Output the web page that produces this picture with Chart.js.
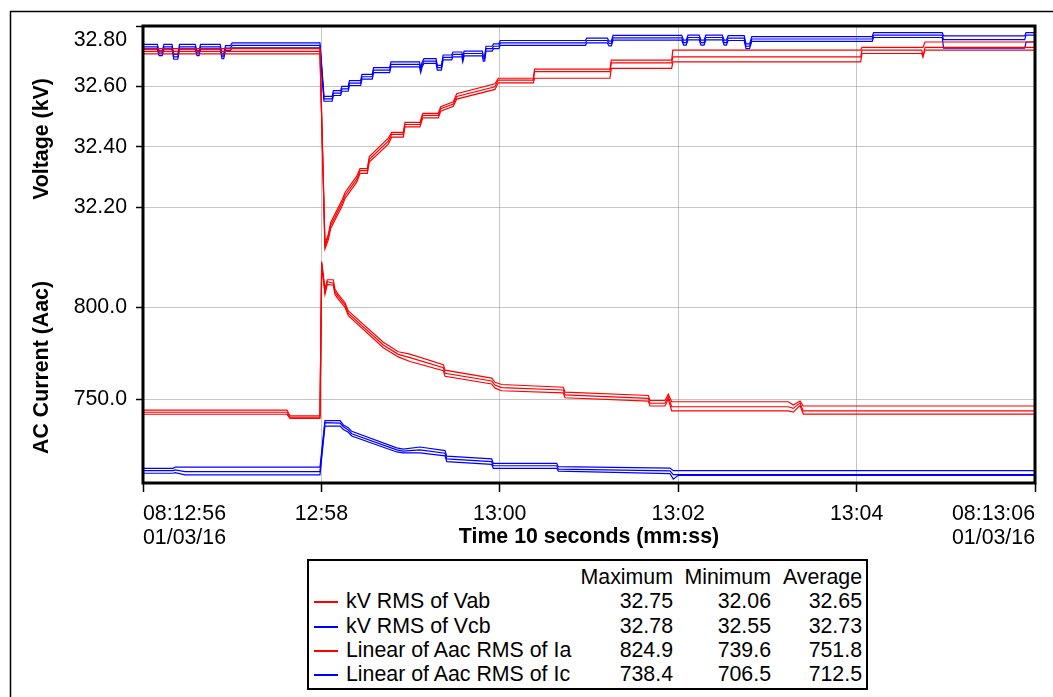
<!DOCTYPE html>
<html>
<head>
<meta charset="utf-8">
<script src="https://cdn.jsdelivr.net/npm/chart.js@4/dist/chart.umd.min.js"></script>
<style>
  html, body { margin: 0; padding: 0; background: #fff; }
  #wrap { position: relative; width: 1053px; height: 697px; overflow: hidden;
          font-family: "Liberation Sans", Arial, Helvetica, sans-serif; color: #000; }
  #c { position: absolute; left: 0; top: 0; }
  #legend { position: absolute; left: 307px; top: 559px; width: 561px; height: 131px;
            border: 2px solid #000; box-sizing: border-box; font-size: 21.33px; background: #fff; }
  .row { position: absolute; left: 0; right: 0; height: 24px; line-height: 24px; white-space: nowrap; }
  .cell { position: absolute; top: 0; text-align: right; }
  .sw { position: absolute; left: 5px; top: 12px; width: 24px; height: 2px; }
  .name { position: absolute; left: 37px; top: 0; }
</style>
</head>
<body>
<div id="wrap">
  <canvas id="c" width="1053" height="697"></canvas>
  <div id="legend"></div>
</div>
<script>
// Time axis: seconds after 08:12:56 on 01/03/16
const timeTicks = [0, 2, 4, 6, 8, 10];
const timeLabels = [['08:12:56', '01/03/16'], '12:58', '13:00', '13:02', '13:04', ['08:13:06', '01/03/16']];
const voltTicks = [32.2, 32.4, 32.6, 32.8];
const currentTicks = [750, 800];

// kV RMS of Vab (max / average / min traces)
const tVab = [0, 1.984, 2.040, 2.077, 2.104, 2.228, 2.265, 2.396, 2.433, 2.515, 2.537, 2.750, 2.788, 2.918, 2.937, 3.105, 3.136, 3.311, 3.337, 3.479, 3.517, 3.946, 3.983, 4.376, 4.390, 5.235, 5.250, 5.927, 5.940, 8.046, 8.060, 8.730, 8.744, 8.767, 10];
const vabMax = [32.725, 32.725, 32.080, 32.110, 32.150, 32.222, 32.249, 32.303, 32.328, 32.328, 32.368, 32.429, 32.448, 32.448, 32.481, 32.481, 32.511, 32.511, 32.533, 32.549, 32.576, 32.609, 32.627, 32.627, 32.657, 32.657, 32.687, 32.687, 32.720, 32.720, 32.729, 32.729, 32.729, 32.747, 32.747];
const vabAvg = [32.716, 32.716, 32.071, 32.102, 32.140, 32.212, 32.239, 32.293, 32.321, 32.321, 32.359, 32.419, 32.441, 32.441, 32.474, 32.474, 32.504, 32.504, 32.526, 32.542, 32.567, 32.599, 32.621, 32.621, 32.649, 32.649, 32.678, 32.678, 32.698, 32.698, 32.720, 32.720, 32.700, 32.729, 32.729];
const vabMin = [32.708, 32.708, 32.062, 32.092, 32.130, 32.202, 32.229, 32.283, 32.312, 32.312, 32.350, 32.409, 32.432, 32.432, 32.466, 32.466, 32.496, 32.496, 32.518, 32.534, 32.558, 32.590, 32.612, 32.612, 32.627, 32.627, 32.660, 32.660, 32.681, 32.681, 32.709, 32.709, 32.698, 32.720, 32.720];

// kV RMS of Vcb
const tVcb = [0.000, 0.160, 0.180, 0.215, 0.235, 0.325, 0.345, 0.390, 0.410, 0.585,
              0.605, 0.628, 0.645, 0.866, 0.885, 0.905, 0.925, 0.980, 1.000, 1.984,
              2.029, 2.120, 2.135, 2.215, 2.230, 2.300, 2.315, 2.440, 2.455, 2.570,
              2.585, 2.765, 2.780, 3.100, 3.113, 3.130, 3.150, 3.285, 3.300, 3.345,
              3.365, 3.460, 3.475, 3.575, 3.585, 3.600, 3.805, 3.815, 3.830, 3.845,
              3.915, 3.930, 3.990, 4.005, 4.960, 4.975, 5.205, 5.225, 5.250, 5.270,
              6.040, 6.060, 6.090, 6.110, 6.235, 6.255, 6.290, 6.310, 6.495, 6.515,
              6.540, 6.560, 6.740, 6.760, 6.800, 6.825, 8.175, 8.190, 8.960, 8.975,
              9.885, 9.900, 10.000];
const vcbMax = [32.739, 32.739, 32.718, 32.718, 32.739, 32.739, 32.706, 32.706, 32.739, 32.739,
                32.718, 32.718, 32.739, 32.739, 32.708, 32.708, 32.735, 32.735, 32.744, 32.744,
                32.567, 32.567, 32.586, 32.586, 32.600, 32.600, 32.619, 32.619, 32.640, 32.640,
                32.662, 32.662, 32.681, 32.681, 32.662, 32.681, 32.692, 32.692, 32.670, 32.670,
                32.704, 32.704, 32.714, 32.714, 32.697, 32.717, 32.717, 32.700, 32.700, 32.733,
                32.733, 32.741, 32.741, 32.752, 32.752, 32.760, 32.760, 32.750, 32.750, 32.769,
                32.769, 32.753, 32.753, 32.770, 32.770, 32.753, 32.753, 32.770, 32.770, 32.753,
                32.753, 32.768, 32.768, 32.741, 32.741, 32.765, 32.765, 32.778, 32.778, 32.767,
                32.767, 32.778, 32.778];
const vcbAvg = [32.731, 32.731, 32.710, 32.710, 32.731, 32.731, 32.698, 32.698, 32.731, 32.731,
                32.710, 32.710, 32.731, 32.731, 32.700, 32.700, 32.727, 32.727, 32.736, 32.736,
                32.559, 32.559, 32.578, 32.578, 32.592, 32.592, 32.611, 32.611, 32.632, 32.632,
                32.654, 32.654, 32.673, 32.673, 32.654, 32.673, 32.684, 32.684, 32.662, 32.662,
                32.696, 32.696, 32.706, 32.706, 32.689, 32.709, 32.709, 32.692, 32.692, 32.725,
                32.725, 32.733, 32.733, 32.744, 32.744, 32.752, 32.752, 32.742, 32.742, 32.761,
                32.761, 32.745, 32.745, 32.762, 32.762, 32.745, 32.745, 32.762, 32.762, 32.745,
                32.745, 32.760, 32.760, 32.733, 32.733, 32.757, 32.757, 32.770, 32.770, 32.755,
                32.755, 32.770, 32.770];
const vcbMin = [32.723, 32.723, 32.702, 32.702, 32.723, 32.723, 32.690, 32.690, 32.723, 32.723,
                32.702, 32.702, 32.723, 32.723, 32.692, 32.692, 32.719, 32.719, 32.728, 32.728,
                32.551, 32.551, 32.570, 32.570, 32.584, 32.584, 32.603, 32.603, 32.624, 32.624,
                32.646, 32.646, 32.665, 32.665, 32.646, 32.665, 32.676, 32.676, 32.654, 32.654,
                32.688, 32.688, 32.698, 32.698, 32.681, 32.701, 32.701, 32.684, 32.684, 32.717,
                32.717, 32.725, 32.725, 32.736, 32.736, 32.744, 32.744, 32.734, 32.734, 32.753,
                32.753, 32.737, 32.737, 32.754, 32.754, 32.737, 32.737, 32.754, 32.754, 32.737,
                32.737, 32.752, 32.752, 32.725, 32.725, 32.749, 32.749, 32.762, 32.762, 32.727,
                32.727, 32.747, 32.747];

// Linear of Aac RMS of Ia
const tIa = [0, 1.614, 1.648, 1.984, 2.003, 2.040, 2.066, 2.133, 2.152, 2.189, 2.265, 2.302, 2.694, 2.862, 2.993, 3.367, 3.386, 3.909, 3.946, 4.021, 4.712, 4.731, 5.665, 5.684, 5.852, 5.889, 5.927, 7.234, 7.290, 7.366, 7.402, 10];
const iaMax = [744.1, 744.1, 741.0, 741.0, 824.9, 810.0, 815.0, 815.0, 810.0, 807.0, 802.5, 798.0, 781.0, 775.8, 774.5, 768.8, 765.8, 761.5, 759.2, 758.0, 756.5, 753.8, 752.0, 749.3, 749.3, 752.8, 748.6, 748.6, 746.8, 749.0, 746.3, 746.3];
const iaAvg = [742.9, 742.9, 740.3, 740.3, 824.0, 808.5, 813.9, 813.1, 808.5, 805.8, 801.3, 796.7, 779.5, 774.4, 772.6, 767.1, 764.1, 759.9, 757.7, 756.3, 755.0, 752.3, 750.5, 747.8, 747.8, 751.4, 745.9, 745.9, 745.0, 748.0, 743.6, 743.6];
const iaMin = [741.8, 741.8, 739.6, 739.6, 823.0, 807.0, 812.5, 812.0, 807.0, 804.5, 800.0, 795.5, 778.0, 773.0, 770.5, 765.5, 762.5, 758.3, 756.0, 754.6, 753.4, 750.8, 749.0, 746.3, 746.3, 750.0, 743.6, 743.6, 743.0, 746.5, 741.9, 741.9];

// Linear of Aac RMS of Ic
const tIc = [0, 0.336, 0.360, 0.471, 1.984, 2.040, 2.209, 2.246, 2.302, 2.340, 2.844, 2.918, 3.105, 3.386, 3.405, 3.909, 3.927, 4.638, 4.656, 5.908, 5.945, 6.000, 10];
const icMax = [712.4, 712.4, 713.0, 713.0, 713.0, 738.4, 738.3, 736.0, 734.5, 732.5, 723.5, 722.8, 724.0, 722.0, 719.0, 717.5, 715.1, 715.1, 713.3, 712.5, 711.1, 711.1, 711.1];
const icAvg = [711.1, 711.1, 711.5, 710.6, 710.6, 737.2, 737.0, 735.0, 733.2, 731.2, 722.4, 721.8, 722.4, 720.6, 717.5, 716.0, 713.8, 713.8, 712.0, 711.0, 709.0, 709.0, 709.0];
const icMin = [709.7, 709.7, 710.0, 708.8, 708.8, 735.4, 735.4, 733.5, 732.0, 730.0, 721.3, 720.8, 720.8, 719.2, 716.0, 714.5, 712.4, 712.4, 710.9, 709.5, 706.5, 708.6, 708.6];

// Statistics table
const legendHeads = ['Maximum', 'Minimum', 'Average'];
const legendNames = ['kV RMS of Vab', 'kV RMS of Vcb', 'Linear of Aac RMS of Ia', 'Linear of Aac RMS of Ic'];
const legendMax = ['32.75', '32.78', '824.9', '738.4'];
const legendMin = ['32.06', '32.55', '739.6', '706.5'];
const legendAvg = ['32.65', '32.73', '751.8', '712.5'];
const RED = '#ff0000';
const BLUE = '#0000ff';
const legendColors = [RED, BLUE, RED, BLUE];

const FONT = '"Liberation Sans", Arial, Helvetica, sans-serif';
const FS = 21.33;

function trace(times, values, color, axis) {
  return {
    data: times.map((t, i) => ({ x: t, y: values[i] })),
    borderColor: color,
    borderWidth: 1.2,
    pointRadius: 0,
    tension: 0,
    fill: false,
    yAxisID: axis
  };
}

const datasets = [
  trace(tVab, vabMax, RED, 'yV'), trace(tVab, vabAvg, RED, 'yV'), trace(tVab, vabMin, RED, 'yV'),
  trace(tVcb, vcbMax, BLUE, 'yV'), trace(tVcb, vcbAvg, BLUE, 'yV'), trace(tVcb, vcbMin, BLUE, 'yV'),
  trace(tIa, iaMax, RED, 'yI'), trace(tIa, iaAvg, RED, 'yI'), trace(tIa, iaMin, RED, 'yI'),
  trace(tIc, icMax, BLUE, 'yI'), trace(tIc, icAvg, BLUE, 'yI'), trace(tIc, icMin, BLUE, 'yI')
];

// Frame around the plot, page border, and the top voltage label set just inside the frame
const framePlugin = {
  id: 'frame',
  beforeDraw(chart) {
    const ctx = chart.ctx;
    ctx.save();
    ctx.strokeStyle = '#000';
    ctx.lineWidth = 1.5;
    ctx.strokeRect(10.5, 11.5, 1200, 1200);
    ctx.restore();
  },
  afterDraw(chart) {
    const { ctx, chartArea: a } = chart;
    ctx.save();
    ctx.strokeStyle = '#000';
    ctx.lineWidth = 3;
    ctx.strokeRect(a.left, a.top, a.right - a.left, a.bottom - a.top);
    const s = chart.scales.yV;
    const top = voltTicks[voltTicks.length - 1];
    ctx.fillStyle = '#000';
    ctx.font = FS + 'px ' + FONT;
    ctx.textAlign = 'right';
    ctx.textBaseline = 'middle';
    ctx.fillText(top.toFixed(2), s.right - 16, s.getPixelForValue(top) + 14);
    ctx.restore();
  }
};

Chart.defaults.font.family = FONT;
Chart.defaults.font.size = FS;
Chart.defaults.color = '#000';

const gridColor = 'rgba(150,150,150,0.55)';

new Chart(document.getElementById('c'), {
  type: 'line',
  data: { datasets },
  options: {
    responsive: false,
    animation: false,
    events: [],
    layout: { padding: { top: 26, right: 18, bottom: 0, left: 0 } },
    plugins: { legend: { display: false }, tooltip: { enabled: false } },
    scales: {
      x: {
        type: 'linear', position: 'bottom', min: 0, max: 10,
        afterBuildTicks: s => { s.ticks = timeTicks.map(v => ({ value: v })); },
        afterFit: s => { s.height = 214; },
        ticks: {
          align: 'inner', maxRotation: 0, autoSkip: false, padding: 10,
          font: { size: FS, lineHeight: '24px' },
          callback: v => timeLabels[timeTicks.indexOf(v)]
        },
        grid: { color: gridColor, lineWidth: 1, tickColor: '#000', tickLength: 9, tickWidth: 1.5 },
        border: { display: false },
        title: { display: true, text: 'Time 10 seconds (mm:ss)', font: { size: FS, weight: 'bold' },
                 padding: { top: 0, bottom: 147.2 } }
      },
      yV: {
        type: 'linear', position: 'left', stack: 'panels', stackWeight: 226, weight: 1,
        min: 32.052, max: 32.80,
        afterBuildTicks: s => { s.ticks = voltTicks.map(v => ({ value: v })); },
        afterFit: s => { s.width = 143; },
        ticks: { padding: 9, callback: (v, i) => i === voltTicks.length - 1 ? '' : v.toFixed(2) },
        grid: { color: gridColor, lineWidth: 1, tickColor: '#000', tickLength: 7, tickWidth: 1.5 },
        border: { display: false },
        title: { display: true, text: 'Voltage (kV)', font: { size: FS, weight: 'bold' },
                 padding: { top: 29.2, bottom: 0 } }
      },
      yI: {
        type: 'linear', position: 'left', stack: 'panels', stackWeight: 231, weight: 0,
        min: 704.4, max: 830.1,
        afterBuildTicks: s => { s.ticks = currentTicks.map(v => ({ value: v })); },
        afterFit: s => { s.width = 143; },
        ticks: { padding: 9, callback: v => v.toFixed(1) },
        grid: { color: gridColor, lineWidth: 1, tickColor: '#000', tickLength: 7, tickWidth: 1.5 },
        border: { display: false },
        title: { display: true, text: 'AC Current (Aac)', font: { size: FS, weight: 'bold' },
                 padding: { top: 29.2, bottom: 0 } }
      }
    }
  },
  plugins: [framePlugin]
});

// Statistics table below the chart
(function buildLegend() {
  const box = document.getElementById('legend');
  const colRight = [193, 95, 4];
  const rowTop = i => Math.round(4 + i * 24.3);
  const head = document.createElement('div');
  head.className = 'row';
  head.style.top = rowTop(0) + 'px';
  legendHeads.forEach((h, j) => {
    const c = document.createElement('span');
    c.className = 'cell';
    c.style.right = colRight[j] + 'px';
    c.textContent = h;
    head.appendChild(c);
  });
  box.appendChild(head);
  legendNames.forEach((name, i) => {
    const r = document.createElement('div');
    r.className = 'row';
    r.style.top = rowTop(i + 1) + 'px';
    const sw = document.createElement('span');
    sw.className = 'sw';
    sw.style.background = legendColors[i];
    r.appendChild(sw);
    const n = document.createElement('span');
    n.className = 'name';
    n.textContent = name;
    r.appendChild(n);
    [legendMax[i], legendMin[i], legendAvg[i]].forEach((val, j) => {
      const c = document.createElement('span');
      c.className = 'cell';
      c.style.right = colRight[j] + 'px';
      c.textContent = val;
      r.appendChild(c);
    });
    box.appendChild(r);
  });
})();
</script>
</body>
</html>
